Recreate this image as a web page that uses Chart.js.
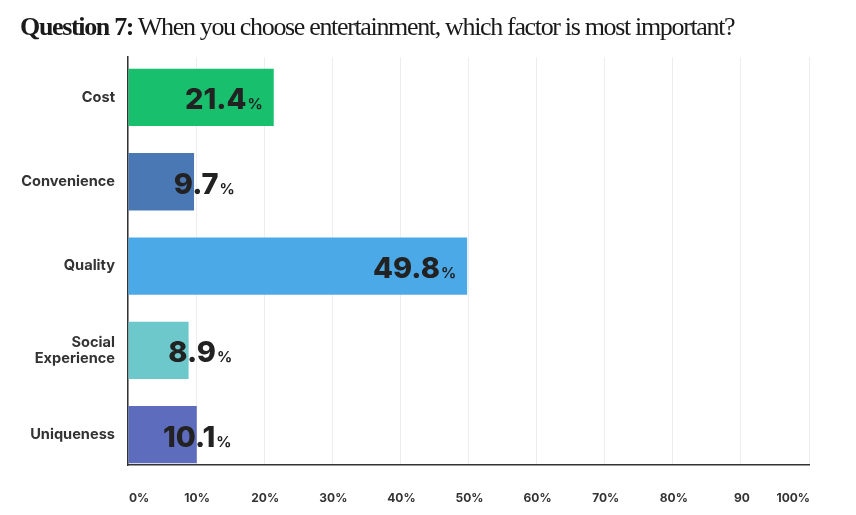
<!DOCTYPE html>
<html>
<head>
<meta charset="utf-8">
<script src="https://cdn.jsdelivr.net/npm/chart.js@4.4.1/dist/chart.umd.min.js"></script>
<style>
  html, body { margin: 0; padding: 0; background: #fff; }
  #wrap { position: relative; width: 856px; height: 515px; overflow: hidden; }
  #title { position: absolute; left: 20px; top: 12px; font-family: 'Liberation Serif', serif; font-size: 26px; color: #1a1a1a; white-space: nowrap; line-height: 30px; }
  #title b { font-weight: 700; }
  canvas { position: absolute; left: 0; top: 0; }
</style>
</head>
<body>
<div id="wrap">
  <canvas id="chart" width="856" height="515"></canvas>
  <div id="title"><b>Question 7:</b> When you choose entertainment, which factor is most important?</div>
</div>
<script>
// --- dados ---
const categories = ['Cost', 'Convenience', 'Quality', ['Social', 'Experience'], 'Uniqueness'];
const shares = [21.4, 9.7, 49.8, 8.9, 10.1];
const barColors = ['#18c06e', '#4a78b4', '#4ca9e8', '#6cc8ca', '#5e6cbd'];
const tickLabels = ['0%', '10%', '20%', '30%', '40%', '50%', '60%', '70%', '80%', '90', '100%'];

// titulo "condensado": aperta o espacamento ate caber na largura
const titleEl = document.getElementById('title');
const nChars = titleEl.textContent.length;
titleEl.style.letterSpacing = ((714 - titleEl.offsetWidth) / nChars) + 'px';

// rotulos de valor (numero grande + % pequeno)
const valueLabels = {
  id: 'valueLabels',
  afterDraw(chart) {
    const ctx = chart.ctx;
    const bars = chart.getDatasetMeta(0).data;
    bars.forEach((bar, i) => {
      const v = shares[i];
      const num = v.toFixed(1);
      const intPart = num.split('.')[0];
      ctx.save();
      ctx.font = '800 29px Inter';
      const numW = ctx.measureText(num).width;
      const intW = ctx.measureText(intPart).width;
      ctx.font = '700 15px Inter';
      const pctW = ctx.measureText('%').width;
      let x;
      if (v > 15) x = bar.x - 11 - numW - pctW - 1;
      else x = bar.x - intW - 1;
      const y = bar.y + 12;
      ctx.fillStyle = '#222';
      ctx.textAlign = 'left';
      ctx.textBaseline = 'alphabetic';
      ctx.font = '800 29px Inter';
      ctx.fillText(num, x, y);
      ctx.font = '700 15px Inter';
      ctx.fillText('%', x + numW + 1, y);
      ctx.restore();
    });
  }
};

Chart.defaults.font.family = 'Inter';
Chart.defaults.color = '#333';

new Chart(document.getElementById('chart'), {
  type: 'bar',
  data: {
    labels: categories,
    datasets: [{ data: shares, backgroundColor: barColors, borderWidth: 0, barPercentage: 0.68, categoryPercentage: 1 }]
  },
  options: {
    indexAxis: 'y',
    responsive: false,
    animation: false,
    layout: { padding: { top: 57, right: 47, left: 0, bottom: 0 } },
    plugins: { legend: { display: false }, tooltip: { enabled: false } },
    scales: {
      x: {
        min: 0, max: 100,
        ticks: { stepSize: 10, padding: 26, align: 'inner', labelOffset: 1, font: { size: 12, weight: '700' }, color: '#333', callback: (v, i) => tickLabels[i] },
        grid: { color: 'rgba(0,0,0,0.07)', drawTicks: false },
        border: { display: true, color: '#333', width: 1.5 },
        afterFit: s => { s.height = 50; }
      },
      y: {
        ticks: { padding: 13, font: { size: 14.6, weight: '700', lineHeight: 1.12 }, color: '#333' },
        grid: { display: false, drawTicks: false },
        border: { display: true, color: '#333', width: 1.5 },
        afterFit: s => { s.width = 128; },
        afterBuildTicks: s => { s._startValue = -0.48; s._valueRange = 4.84; }
      }
    }
  },
  plugins: [valueLabels]
});
</script>
</body>
</html>
